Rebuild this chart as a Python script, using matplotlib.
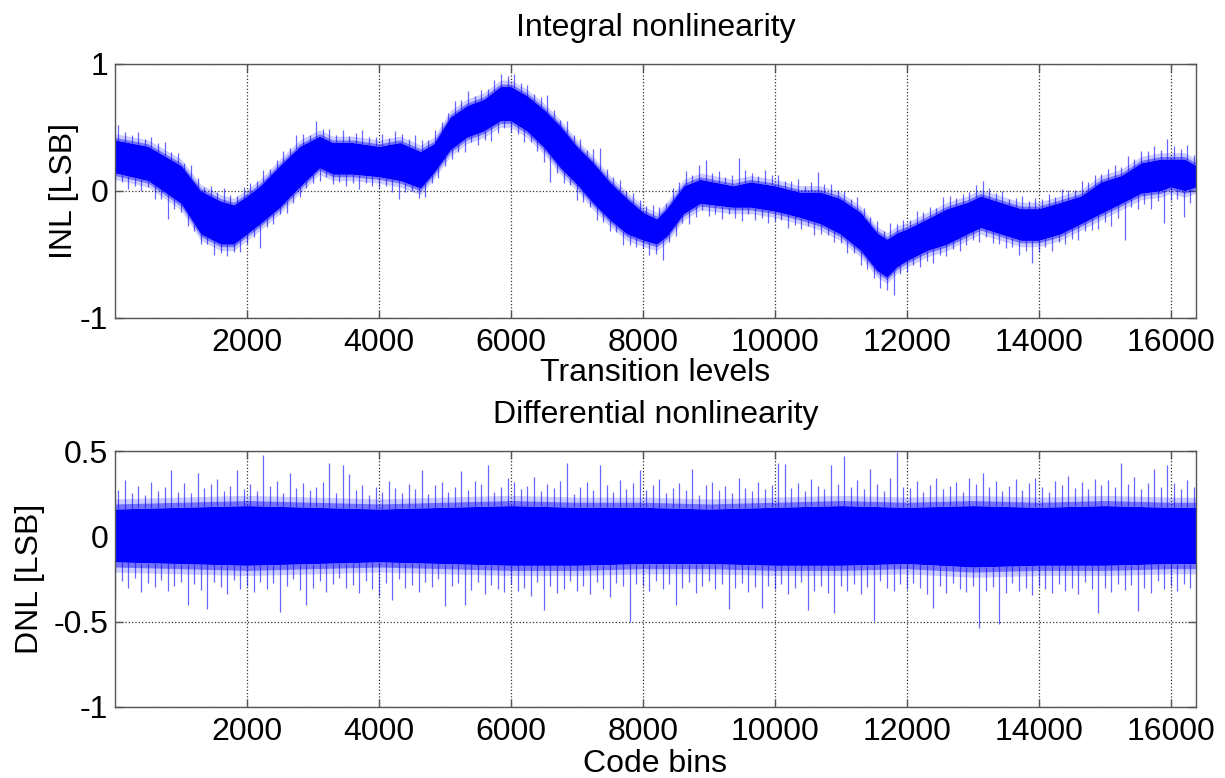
import numpy as np
import matplotlib
matplotlib.use("Agg")
import matplotlib.pyplot as plt

plt.rcParams['font.family'] = ['Liberation Sans', 'DejaVu Sans']
plt.rcParams['axes.unicode_minus'] = False

# INL: solid band (code, top edge, bottom edge) in LSB
inl_x = [0, 500, 1000, 1300, 1600, 1800, 2000, 2200, 2500, 2800,
         3100, 3300, 3600, 4000, 4320, 4630, 4830, 5080, 5330, 5590,
         5840, 6000, 6240, 6500, 6750, 7000, 7250, 7500, 7760, 8010,
         8210, 8360, 8620, 8870, 9370, 9630, 10000, 10380, 10690, 10990,
         11300, 11550, 11700, 11850, 12000, 12310, 12610, 12920, 13120, 13420,
         13730, 14000, 14330, 14640, 14940, 15250, 15550, 15850, 16000, 16210,
         16383]
inl_top = [0.40, 0.35, 0.20, 0.00, -0.08, -0.11, -0.04, 0.04, 0.20, 0.35,
           0.43, 0.38, 0.38, 0.35, 0.38, 0.31, 0.37, 0.58, 0.67, 0.72,
           0.82, 0.82, 0.75, 0.64, 0.51, 0.35, 0.22, 0.07, -0.06, -0.17,
           -0.22, -0.14, 0.04, 0.09, 0.04, 0.07, 0.04, -0.01, -0.01, -0.06,
           -0.17, -0.33, -0.38, -0.33, -0.30, -0.22, -0.14, -0.09, -0.04, -0.09,
           -0.14, -0.14, -0.09, -0.04, 0.07, 0.12, 0.22, 0.25, 0.25, 0.25,
           0.20]
inl_bot = [0.14, 0.08, -0.10, -0.34, -0.42, -0.42, -0.34, -0.26, -0.13, 0.03,
           0.18, 0.13, 0.13, 0.11, 0.08, 0.02, 0.14, 0.32, 0.42, 0.47,
           0.55, 0.55, 0.47, 0.34, 0.18, 0.05, -0.10, -0.23, -0.34, -0.39,
           -0.42, -0.36, -0.18, -0.10, -0.13, -0.13, -0.16, -0.21, -0.26, -0.34,
           -0.47, -0.63, -0.68, -0.60, -0.55, -0.47, -0.42, -0.34, -0.29, -0.34,
           -0.39, -0.39, -0.34, -0.26, -0.18, -0.10, -0.02, 0.00, 0.03, 0.00,
           0.03]

# spikes sticking out of the band, one per 100 codes, in 0.01 LSB
inl_up = [10, 6, 4, 8, 3, 7, 5, 9, 4, 6, 3, 8, 5, 2, 6, 4, 9, 5, 3, 7,
          6, 4, 8, 3, 5, 7, 4, 9, 6, 3, 11, 5, 7, 4, 8, 3, 6, 9, 4, 5,
          7, 3, 8, 5, 4, 9, 6, 3, 7, 5, 4, 8, 5, 9, 3, 6, 4, 7, 8, 6,
          9, 5, 7, 4, 6, 12, 5, 3, 8, 4, 6, 3, 9, 16, 5, 4, 7, 3, 6, 5,
          4, 7, 5, 3, 8, 6, 9, 4, 10, 14, 5, 7, 4, 6, 19, 8, 5, 4, 9, 6,
          7, 4, 5, 8, 3, 6, 14, 5, 7, 4, 6, 3, 8, 5, 4, 7, 3, 9, 5, 6,
          4, 8, 5, 6, 3, 9, 7, 4, 6, 5, 8, 10, 6, 4, 7, 3, 5, 8, 4, 6,
          5, 7, 3, 8, 6, 4, 9, 5, 7, 4, 6, 8, 5, 10, 4, 7, 6, 9, 5, 14,
          8, 6, 10, 5]
inl_dn = [6, 4, 8, 5, 7, 3, 9, 5, 17, 6, 5, 8, 4, 6, 3, 9, 5, 7, 4, 8,
          6, 4, 17, 5, 7, 3, 8, 5, 6, 4, 5, 8, 3, 6, 4, 7, 5, 9, 4, 6,
          7, 4, 8, 13, 5, 3, 6, 9, 4, 7, 5, 6, 4, 8, 3, 7, 5, 9, 6, 4,
          7, 5, 8, 4, 6, 9, 19, 5, 7, 4, 10, 6, 4, 8, 5, 7, 3, 9, 6, 5,
          4, 8, 6, 14, 5, 7, 4, 9, 6, 3, 7, 5, 8, 4, 6, 9, 3, 7, 5, 8,
          6, 4, 9, 5, 7, 3, 8, 6, 4, 7, 5, 8, 4, 9, 6, 7, 10, 8, 17, 5,
          7, 4, 8, 6, 9, 5, 7, 4, 8, 6, 5, 9, 4, 7, 6, 8, 5, 10, 6, 16,
          7, 5, 9, 4, 8, 6, 10, 5, 7, 9, 6, 12, 8, 28, 5, 9, 7, 11, 6, 24,
          8, 6, 19, 9]

# DNL: solid band edges every 1000 codes, then spikes per 100 codes
dnl_x = [0, 1000, 2000, 3000, 4000, 5000, 6000, 7000, 8000, 9000,
         10000, 11000, 12000, 13000, 14000, 15000, 16000, 16383]
dnl_top = [0.16, 0.17, 0.18, 0.17, 0.16, 0.17, 0.18, 0.17, 0.17, 0.16,
           0.17, 0.18, 0.17, 0.18, 0.17, 0.18, 0.17, 0.17]
dnl_bot = [-0.15, -0.16, -0.17, -0.16, -0.15, -0.16, -0.17, -0.17, -0.16, -0.16,
           -0.17, -0.17, -0.16, -0.18, -0.17, -0.17, -0.16, -0.16]
dnl_up = [8, 14, 6, 10, 5, 12, 7, 9, 19, 6, 11, 5, 17, 8, 10, 13, 6, 9, 18, 7,
          10, 6, 27, 9, 12, 5, 17, 8, 11, 7, 9, 12, 23, 6, 22, 17, 8, 11, 5, 10,
          7, 13, 9, 6, 11, 8, 19, 5, 10, 12, 6, 9, 18, 7, 12, 10, 21, 5, 8, 13,
          11, 7, 9, 14, 6, 10, 8, 12, 23, 5, 9, 12, 7, 22, 10, 6, 13, 8, 11, 19,
          7, 10, 14, 6, 9, 12, 8, 20, 5, 11, 13, 8, 10, 6, 15, 9, 7, 12, 8, 10,
          23, 22, 8, 11, 6, 13, 9, 7, 21, 10, 26, 8, 12, 7, 19, 10, 6, 14, 29, 9,
          8, 12, 6, 10, 14, 7, 9, 11, 5, 13, 10, 16, 8, 12, 6, 9, 13, 7, 11, 14,
          9, 6, 12, 10, 15, 8, 11, 7, 13, 9, 12, 8, 22, 10, 14, 7, 11, 19, 9, 22,
          11, 8, 13, 9]
dnl_dn = [19, 8, 12, 6, 14, 9, 11, 7, 13, 10, 8, 21, 9, 12, 23, 7, 10, 14, 6, 11,
          9, 13, 7, 11, 8, 25, 10, 6, 12, 21, 11, 7, 14, 9, 6, 12, 10, 15, 8, 13,
          17, 9, 19, 7, 12, 10, 14, 8, 11, 6, 22, 10, 8, 21, 12, 7, 14, 9, 11, 13,
          8, 12, 10, 15, 7, 23, 9, 13, 11, 6, 12, 9, 14, 7, 11, 16, 8, 10, 31, 9,
          10, 13, 7, 12, 9, 21, 11, 8, 14, 10, 7, 12, 9, 23, 11, 8, 13, 10, 22, 9,
          11, 8, 14, 10, 7, 23, 12, 9, 13, 25, 9, 12, 8, 14, 10, 30, 7, 11, 13, 9,
          12, 8, 11, 14, 22, 9, 13, 7, 10, 12, 8, 33, 11, 9, 31, 13, 7, 12, 10, 14,
          9, 11, 13, 8, 12, 10, 14, 7, 11, 25, 10, 13, 8, 12, 9, 24, 11, 14, 7, 12,
          10, 13, 9, 11]

xt = [2000, 4000, 6000, 8000, 10000, 12000, 14000, 16000]
fs = 23
blue = '#0000ff'


def band(ax, x, top, bot, up, dn, fringe):
    top = np.array(top)
    bot = np.array(bot)
    ax.fill_between(x, bot, top, color=blue, lw=0, zorder=2)
    # soft edge of the noise band
    f1, f2 = fringe
    ax.fill_between(x, top, top + f1, color=blue, lw=0, alpha=0.55, zorder=2)
    ax.fill_between(x, top + f1, top + f2, color=blue, lw=0, alpha=0.2, zorder=2)
    ax.fill_between(x, bot - f1, bot, color=blue, lw=0, alpha=0.55, zorder=2)
    ax.fill_between(x, bot - f2, bot - f1, color=blue, lw=0, alpha=0.2, zorder=2)
    xu = np.arange(len(up)) * 100 + 50
    xd = np.arange(len(dn)) * 100
    bu = np.interp(xu, x, top)
    bd = np.interp(xd, x, bot)
    ax.vlines(xu, bu, bu + f1 + np.array(up) / 100, color=blue, lw=0.9, alpha=0.6, zorder=2)
    ax.vlines(xd, bd, bd - f1 - np.array(dn) / 100, color=blue, lw=0.9, alpha=0.6, zorder=2)


def style(ax):
    ax.set_xlim(0, 16383)
    ax.set_xticks(xt)
    ax.grid(True, ls=':', color='#333333', lw=0.9)
    ax.set_axisbelow(True)
    for s in ax.spines.values():
        s.set_color('#555555')
        s.set_linewidth(1.0)
    ax.tick_params(direction='in', top=True, right=True, length=6, width=1,
                   color='#555555', labelsize=fs)
    ax.tick_params(axis='x', pad=7)
    ax.tick_params(axis='y', pad=5)


fig = plt.figure(figsize=(12.25, 7.78), dpi=100)
ax1 = fig.add_axes([0.0939, 0.5913, 0.8824, 0.3269])
ax2 = fig.add_axes([0.0939, 0.0913, 0.8824, 0.3290])

band(ax1, inl_x, inl_top, inl_bot, inl_up, inl_dn, (0.02, 0.05))
style(ax1)
ax1.set_ylim(-1, 1)
ax1.set_yticks([-1, 0, 1])
ax1.set_yticklabels(['-1', '0', '1'])
ax1.set_title('Integral nonlinearity', fontsize=fs, pad=20)
ax1.set_xlabel('Transition levels', fontsize=fs, labelpad=0)
ax1.set_ylabel('INL [LSB]', fontsize=fs)
ax1.yaxis.set_label_coords(-0.033, 0.5)

band(ax2, dnl_x, dnl_top, dnl_bot, dnl_up, dnl_dn, (0.03, 0.06))
style(ax2)
ax2.set_ylim(-1, 0.5)
ax2.set_yticks([-1, -0.5, 0, 0.5])
ax2.set_yticklabels(['-1', '-0.5', '0', '0.5'])
ax2.set_title('Differential nonlinearity', fontsize=fs, pad=20)
ax2.set_xlabel('Code bins', fontsize=fs, labelpad=2)
ax2.set_ylabel('DNL [LSB]', fontsize=fs)
ax2.yaxis.set_label_coords(-0.065, 0.5)

fig.savefig('out.png', dpi=100)
